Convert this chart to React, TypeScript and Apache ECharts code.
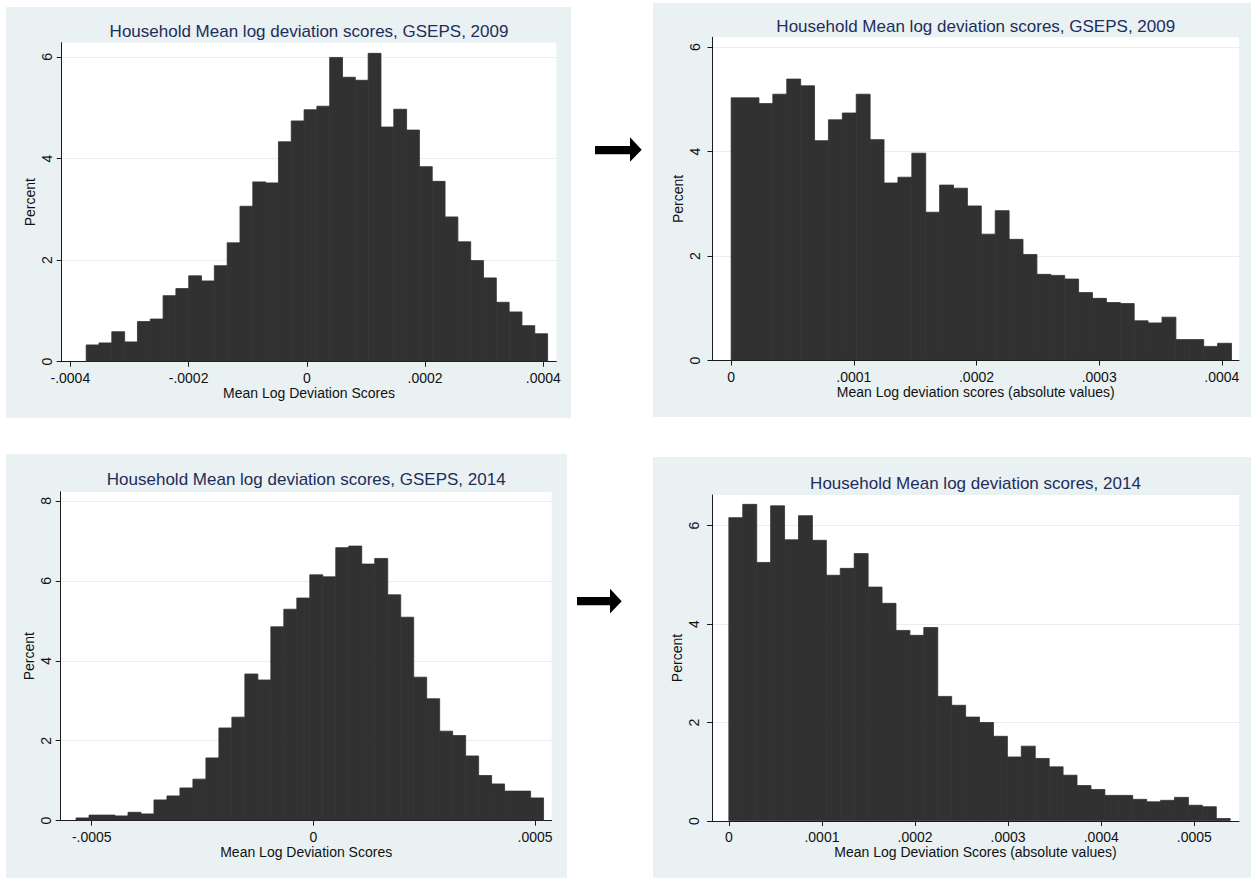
import React, { useEffect, useRef } from "react";
import * as echarts from "echarts";

// ---------- data ----------
const titles = [
  "Household Mean log deviation scores, GSEPS, 2009",
  "Household Mean log deviation scores, GSEPS, 2009",
  "Household Mean log deviation scores, GSEPS, 2014",
  "Household Mean log deviation scores, 2014",
];
const xTitles = [
  "Mean Log Deviation Scores",
  "Mean Log deviation scores (absolute values)",
  "Mean Log Deviation Scores",
  "Mean Log Deviation Scores (absolute values)",
];
const yTitle = "Percent";

const xTicks1 = ["-.0004", "-.0002", "0", ".0002", ".0004"];
const xTicks2 = ["0", ".0001", ".0002", ".0003", ".0004"];
const xTicks3 = ["-.0005", "0", ".0005"];
const xTicks4 = ["0", ".0001", ".0002", ".0003", ".0004", ".0005"];
const yTicks1 = [0, 2, 4, 6];
const yTicks2 = [0, 2, 4, 6];
const yTicks3 = [0, 2, 4, 6, 8];
const yTicks4 = [0, 2, 4, 6];

// histogram bins: first bin start and bin width (data units), then percent per bin
const bins1 = { start: -0.0003732, width: 0.00002168 };
const heights1 = [
  0.33, 0.37, 0.59, 0.39, 0.79, 0.84, 1.3, 1.44, 1.69, 1.59, 1.89, 2.34, 3.06, 3.54, 3.52, 4.33, 4.74, 4.96,
  5.03, 5.99, 5.6, 5.54, 6.07, 4.62, 4.97, 4.56, 3.84, 3.55, 2.85, 2.36, 1.99, 1.65, 1.17, 0.98, 0.71, 0.55,
];
const bins2 = { start: 0, width: 0.00001133 };
const heights2 = [
  5.03, 5.03, 4.92, 5.1, 5.39, 5.26, 4.21, 4.61, 4.74, 5.1, 4.23, 3.4, 3.51, 3.97, 2.84, 3.36, 3.3, 2.96, 2.42,
  2.87, 2.32, 2.03, 1.65, 1.63, 1.56, 1.3, 1.19, 1.11, 1.09, 0.76, 0.72, 0.83, 0.4, 0.4, 0.27, 0.33,
];
const bins3 = { start: -0.0005354, width: 0.00002929 };
const heights3 = [
  0.07, 0.14, 0.14, 0.12, 0.21, 0.17, 0.52, 0.62, 0.82, 1.04, 1.57, 2.32, 2.59, 3.67, 3.52, 4.85, 5.29, 5.57,
  6.15, 6.1, 6.83, 6.87, 6.42, 6.56, 5.65, 5.09, 3.59, 3.05, 2.24, 2.13, 1.62, 1.13, 0.92, 0.74, 0.74, 0.57,
];
const bins4 = { start: 0, width: 0.00001496 };
const heights4 = [
  6.16, 6.43, 5.25, 6.4, 5.71, 6.2, 5.7, 4.99, 5.13, 5.43, 4.75, 4.42, 3.87, 3.77, 3.93, 2.53, 2.35, 2.11, 2.0,
  1.72, 1.3, 1.52, 1.27, 1.1, 0.93, 0.72, 0.64, 0.52, 0.52, 0.44, 0.39, 0.42, 0.48, 0.32, 0.29, 0.05,
];

// ---------- layout / style ----------
const FONT = "Liberation Sans, Arial, Helvetica, sans-serif";
const BG = "#e9f1f3";
const BAR = "#313131";
const TITLE_COLOR = "#1e2d5a";
const GRID_LINE = "#e6eef0";

const panels = [
  { rect: [6, 7, 565, 411], grid: { left: 61.7, top: 42.7, width: 494.6, height: 319 }, xr: [-0.0004146, 0.000422], ymax: 6.28, titleTop: 22.5, labelMargin: 8, nameGap: 25 },
  { rect: [653, 3, 598, 414], grid: { left: 712.5, top: 37.3, width: 526.5, height: 323.2 }, xr: [-0.0000152, 0.000414], ymax: 6.19, titleTop: 17.5, labelMargin: 11, nameGap: 28 },
  { rect: [6, 454, 561, 424], grid: { left: 60.7, top: 491.7, width: 491, height: 329 }, xr: [-0.00057, 0.0005374], ymax: 8.23, titleTop: 471, labelMargin: 8, nameGap: 25 },
  { rect: [653, 457, 598, 421], grid: { left: 712, top: 495, width: 527, height: 326 }, xr: [-0.0000181, 0.000548], ymax: 6.62, titleTop: 474.5, labelMargin: 11, nameGap: 28 },
];

const xTickSets = [xTicks1, xTicks2, xTicks3, xTicks4];
const yTickSets = [yTicks1, yTicks2, yTicks3, yTicks4];
const binSets = [bins1, bins2, bins3, bins4];
const heightSets = [heights1, heights2, heights3, heights4];

function buildOption() {
  const grid: any[] = [];
  const xAxis: any[] = [];
  const yAxis: any[] = [];
  const series: any[] = [];
  const title: any[] = [];
  const graphic: any[] = [];

  panels.forEach((p, i) => {
    graphic.push({
      type: "rect",
      z: -100,
      shape: { x: p.rect[0], y: p.rect[1], width: p.rect[2], height: p.rect[3] },
      style: { fill: BG },
      silent: true,
    });
    grid.push({
      ...p.grid,
      show: true,
      backgroundColor: "#ffffff",
      borderWidth: 0,
      containLabel: false,
    });
    title.push({
      text: titles[i],
      left: p.grid.left + p.grid.width / 2,
      top: p.titleTop,
      textAlign: "center",
      padding: 0,
      textStyle: { fontFamily: FONT, fontSize: 17, fontWeight: "normal", color: TITLE_COLOR },
    });
    const xLabels = xTickSets[i];
    const xVals = xLabels.map((s) => parseFloat(s));
    xAxis.push({
      type: "value",
      gridIndex: i,
      min: p.xr[0],
      max: p.xr[1],
      name: xTitles[i],
      nameLocation: "middle",
      nameGap: 24,
      nameTextStyle: { fontFamily: FONT, fontSize: 14, color: "#111" },
      axisLine: { show: true, onZero: false, lineStyle: { color: "#1a1a1a", width: 1 } },
      axisTick: { show: true, length: 5, customValues: xVals, lineStyle: { color: "#1a1a1a" } },
      axisLabel: {
        customValues: xVals,
        margin: 9,
        fontFamily: FONT,
        fontSize: 14,
        color: "#111",
        formatter: (v: number) => {
          const k = xVals.findIndex((t) => Math.abs(t - v) < 1e-10);
          return k >= 0 ? xLabels[k] : "";
        },
      },
      splitLine: { show: false },
    });
    const yVals = yTickSets[i];
    yAxis.push({
      type: "value",
      gridIndex: i,
      min: 0,
      max: p.ymax,
      name: yTitle,
      nameLocation: "middle",
      nameGap: p.nameGap,
      nameRotate: 90,
      nameTextStyle: { fontFamily: FONT, fontSize: 14, color: "#111" },
      axisLine: { show: true, onZero: false, lineStyle: { color: "#1a1a1a", width: 1 } },
      axisTick: { show: true, length: 5, customValues: yVals, lineStyle: { color: "#1a1a1a" } },
      axisLabel: {
        customValues: yVals,
        rotate: 90,
        margin: p.labelMargin,
        fontFamily: FONT,
        fontSize: 14,
        color: "#111",
      },
      splitLine: { show: true, lineStyle: { color: GRID_LINE, width: 1 } },
    });
    const b = binSets[i];
    const data = heightSets[i].map((h, k) => [b.start + k * b.width, b.start + (k + 1) * b.width, h]);
    series.push({
      type: "custom",
      xAxisIndex: i,
      yAxisIndex: i,
      silent: true,
      clip: true,
      encode: { x: [0, 1], y: 2 },
      data,
      renderItem: (params: any, api: any) => {
        const p0 = api.coord([api.value(0), api.value(2)]);
        const p1 = api.coord([api.value(1), 0]);
        return {
          type: "rect",
          shape: { x: p0[0], y: p0[1], width: p1[0] - p0[0], height: p1[1] - p0[1] - 0.5 },
          style: { fill: BAR, stroke: BAR, lineWidth: 0.8 },
        };
      },
    });
  });

  // arrows
  graphic.push(
    { type: "rect", z: 50, shape: { x: 595, y: 146, width: 36, height: 8.3 }, style: { fill: "#000" } },
    { type: "polygon", z: 50, shape: { points: [[630, 137.3], [641.7, 149.8], [630, 161.7]] }, style: { fill: "#000" } },
    { type: "rect", z: 50, shape: { x: 577, y: 597, width: 34, height: 8.3 }, style: { fill: "#000" } },
    { type: "polygon", z: 50, shape: { points: [[610, 588.8], [621.7, 601.2], [610, 613.5]] }, style: { fill: "#000" } }
  );

  return {
    animation: false,
    backgroundColor: "#ffffff",
    textStyle: { fontFamily: FONT },
    title,
    grid,
    xAxis,
    yAxis,
    series,
    graphic,
  };
}

export default function App() {
  const ref = useRef<HTMLDivElement>(null);
  useEffect(() => {
    if (!ref.current) return;
    const chart = echarts.init(ref.current, undefined, { renderer: "svg" });
    chart.setOption(buildOption() as any);
    return () => chart.dispose();
  }, []);
  return (
    <div
      ref={ref}
      style={{ position: "absolute", left: 0, top: 0, width: 1251, height: 878 }}
    />
  );
}
